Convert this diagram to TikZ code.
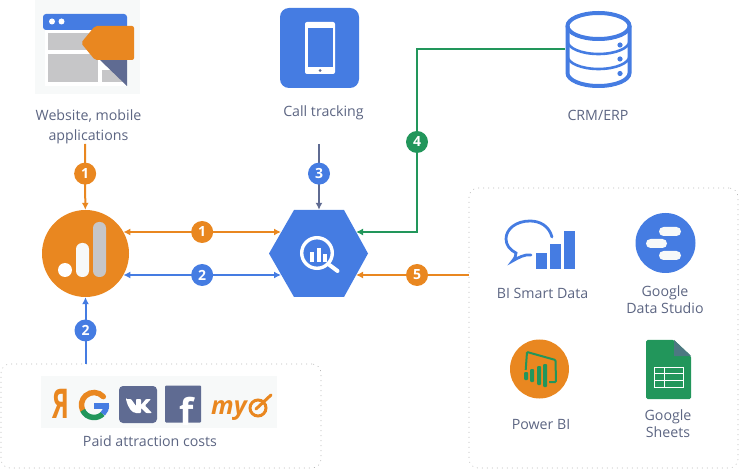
\documentclass[tikz,border=0pt]{standalone}
\usepackage{fontspec}
\setmainfont{Open Sans}
\usetikzlibrary{arrows.meta}
\definecolor{gaorange}{HTML}{E98720}
\definecolor{gblue}{HTML}{457CE2}
\definecolor{slate}{HTML}{5F6B92}
\definecolor{ggreen}{HTML}{22965B}
\definecolor{labelgrey}{HTML}{5C6582}
\definecolor{panelgrey}{HTML}{C6C6C8}
\definecolor{palebg}{HTML}{F7F9F9}
\tikzset{
    label/.style={text=labelgrey, align=center, font=\fontsize{14.2}{17}\selectfont},
    badge/.style={shape=circle, fill=#1, text=white, minimum size=22pt, inner sep=0pt, font=\fontsize{14}{14}\selectfont\bfseries},
    link/.style={draw=#1, line width=2pt, -{Latex[length=7pt,width=7pt]}},
    twoway/.style={draw=#1, line width=2pt, {Latex[length=7pt,width=7pt]}-{Latex[length=7pt,width=7pt]}},
    panel/.style={shape=rectangle, rounded corners=9pt, draw=gray!55, line width=0.6pt, dash pattern=on 1pt off 4pt, inner sep=0pt}
}
\begin{document}
\begin{tikzpicture}[x=1pt, y=-1pt]
                    \useasboundingbox (0,0) rectangle (739,470);

                    \node[panel, minimum width=320pt, minimum height=104pt] (paid) at (161,416) {};
                    \node[panel, minimum width=269pt, minimum height=280pt] (tools) at (603.5,328) {};

                    \fill[palebg] (35,0) rectangle (140,94);
                    \fill[white] (45,30) rectangle (127,86);
                    \fill[gblue, rounded corners=3pt] (43,30) -- (43,14) -- (127,14) -- (127,30) -- cycle;
                    \fill[white] (52,21.5) circle (3);
                    \fill[white] (61.5,21.5) circle (3);
                    \fill[panelgrey] (48,33) rectangle (100,50);
                    \fill[panelgrey] (48,54) rectangle (98,82);
                    \fill[panelgrey] (102,70) rectangle (126,82);
                    \fill[slate] (100,60) -- (127,60) -- (127,86) -- cycle;
                    \fill[gaorange, rounded corners=2pt] (81,43) -- (95,26) -- (134,26) -- (134,60) -- (95,60) -- cycle;

                    \fill[gblue, rounded corners=9pt] (280,8) rectangle (359,88);
                    \fill[white, rounded corners=2pt] (305,22) rectangle (335,74);
                    \fill[gblue] (308,28) rectangle (333,67);
                    \fill[slate] (320,70.5) circle (1.5);

                    \draw[gblue, line width=4pt] (598.5,26) ellipse [x radius=31, y radius=13];
                    \draw[gblue, line width=4pt] (567.5,26) -- (567.5,73) arc [start angle=180, end angle=0, x radius=31, y radius=13] -- (629.5,26);
                    \draw[gblue, line width=2.6pt] (629.5,41) arc [start angle=0, end angle=180, x radius=31, y radius=13];
                    \draw[gblue, line width=2.6pt] (629.5,56) arc [start angle=0, end angle=180, x radius=31, y radius=13];
                    \fill[gblue] (620,45) circle (2.6);
                    \fill[gblue] (620,59) circle (2.6);
                    \fill[gblue] (620,73.5) circle (2.6);

                    \node[label, font=\fontsize{14.2}{20}\selectfont] (webtext) at (88.5,126.5) {Website, mobile\\applications};
                    \node[label] (calltext) at (323.5,113) {Call tracking};
                    \node[label] (crmtext) at (598,115) {CRM/ERP};

                    \node[shape=circle, fill=gaorange, minimum size=87pt, inner sep=0pt] (ga) at (85.5,253.5) {};
                    \fill[white] (65,270) circle (7);
                    \fill[palebg, rounded corners=6pt] (76,243) rectangle (89,277);
                    \fill[panelgrey, rounded corners=6pt] (93,222) rectangle (106,277);

                    \fill[gblue] (269,253.5) -- (294,210) -- (344,210) -- (368,253.5) -- (344,297) -- (294,297) -- cycle;
                    \node[shape=rectangle, minimum width=50pt, minimum height=87pt, inner sep=0pt] (bq) at (319,253.5) {};
                    \draw[white, line width=3.4pt] (317,253) circle (15.3);
                    \draw[white, line width=4pt, line cap=round] (329.5,265) -- (337.5,271);
                    \fill[white] (310,252) rectangle (314,262);
                    \fill[white] (316.5,248) rectangle (320.5,262);
                    \fill[white] (323,254) rectangle (327,262);

                    \coordinate (webout) at (85,144);
                    \coordinate (callout) at (319,144);
                    \coordinate (crmout) at (565,49);
                    \coordinate (bend) at (417,49);
                    \coordinate (toolsout) at (469,275);
                    \coordinate (bqleftup) at (281,232);
                    \coordinate (bqleftdown) at (281,275);
                    \coordinate (bqrightup) at (356,232);
                    \coordinate (bqrightdown) at (356,275);

                    \draw[link=gaorange] (webout) -- (ga) node[pos=0.45, badge=gaorange] {1};
                    \draw[link=slate] (callout) -- (bq) node[pos=0.45, badge=gblue] {3};
                    \draw[twoway=gaorange] (ga.30 |- bqleftup) -- (bqleftup) node[midway, badge=gaorange] {1};
                    \draw[twoway=gblue] (ga.-30 |- bqleftdown) -- (bqleftdown) node[midway, badge=gblue] {2};
                    \draw[link=gblue] (paid.north -| ga) -- (ga) node[midway, badge=gblue] {2};
                    \draw[link=ggreen] (crmout) -- (bend) |- (bqrightup) node[pos=0.254, badge=ggreen] {4};
                    \draw[link=gaorange] (toolsout) -- (bqrightdown) node[pos=0.46, badge=gaorange] {5};

                    \fill[palebg] (41,376) rectangle (277,428);
                    \node[text=gaorange, xscale=0.62, font=\fontsize{41}{41}\selectfont\bfseries, inner sep=0pt] (yandex) at (60.5,404) {Я};
                    \draw[gaorange, line width=5.5pt, line cap=round] (94,405) ++(-42:12.5) arc [start angle=-42, end angle=-205, radius=12.5];
                    \draw[ggreen, line width=5.5pt] (94,405) ++(-205:12.5) arc [start angle=-205, end angle=-315, radius=12.5];
                    \draw[gblue, line width=5.5pt] (94,405) ++(-315:12.5) arc [start angle=-315, end angle=-360, radius=12.5];
                    \fill[gblue] (94,403) rectangle (109,409);
                    \fill[slate, rounded corners=4pt] (119,386) rectangle (157,423);
                    \fill[white, rounded corners=0.8pt] (126,399) -- (131,399) -- (136,406) -- (136,399) -- (141,399) -- (141,405) -- (146,399) -- (151,399) -- (145,405.5) -- (152,413) -- (146,413) -- (141,408) -- (141,413) -- (137,413) .. controls (132,413) and (128,408) .. (126,399) -- cycle;
                    \node[shape=rectangle, fill=slate, rounded corners=1pt, minimum width=36pt, minimum height=37pt, inner sep=0pt] (fb) at (183,404) {};
                    \node[text=white, font=\fontsize{37}{37}\selectfont\bfseries, anchor=south, inner sep=0pt] (fbf) at (187,426) {f};
                    \node[text=gaorange, font=\fontsize{25}{25}\selectfont\bfseries\itshape, inner sep=0pt] (mytext) at (229,411) {my};
                    \draw[gaorange, line width=3pt] (258,408) circle (8);
                    \draw[gaorange, line width=3pt, line cap=round] (256,409) -- (271,395);
                    \node[label] (paidtext) at (150,441.5) {Paid attraction costs};

                    \draw[gblue, line width=2.8pt, line cap=round] (552,237) .. controls (549,226) and (540,221) .. (530,221) .. controls (516,221) and (506,229) .. (506,239) .. controls (506,245) and (510,250) .. (516,253) .. controls (516,256) and (515,258) .. (512.5,261) .. controls (518,258) and (524,254) .. (531,255);
                    \fill[gblue] (536,253) rectangle (547,269);
                    \fill[gblue] (550,244) rectangle (561,269);
                    \fill[gblue] (564,231) rectangle (575,269);
                    \node[label] (bitext) at (542.5,293.5) {BI Smart Data};

                    \fill[gblue] (665.5,243) circle (30);
                    \fill[palebg, rounded corners=4.5pt] (659,227) rectangle (681,236);
                    \fill[palebg, rounded corners=4.5pt] (646,239) rectangle (667,248);
                    \fill[palebg, rounded corners=4.5pt] (659,251) rectangle (681,260);
                    \node[label] (dstext) at (665,300) {Google\\Data Studio};

                    \fill[gaorange] (539.5,369) circle (29.5);
                    \draw[ggreen, line width=2pt, rounded corners=1pt] (525.7,370) -- (527,352) -- (555.5,360) -- (556,382) -- (549,382);
                    \fill[ggreen, rounded corners=1pt] (524,372) rectangle (528,380);
                    \fill[ggreen, rounded corners=1pt] (530,369) rectangle (534,382);
                    \fill[ggreen, rounded corners=1pt] (537,366) rectangle (541,385);
                    \fill[ggreen, rounded corners=1pt] (543,364) rectangle (547,387);
                    \node[label] (pbitext) at (541,424.5) {Power BI};

                    \fill[ggreen, rounded corners=1.5pt] (646,340) -- (674,340) -- (691,356) -- (691,399) -- (646,399) -- cycle;
                    \fill[slate!70!ggreen] (674,340) -- (691,356) -- (674,356) -- cycle;
                    \draw[white, line width=1pt] (654,367) rectangle (683,387);
                    \draw[white, line width=1pt] (654,373.5) -- (683,373.5);
                    \draw[white, line width=1pt] (654,380) -- (683,380);
                    \draw[white, line width=1pt] (664,367) -- (664,387);
                    \node[label] (sheetstext) at (668,424) {Google\\Sheets};

                \end{tikzpicture}
\end{document}
